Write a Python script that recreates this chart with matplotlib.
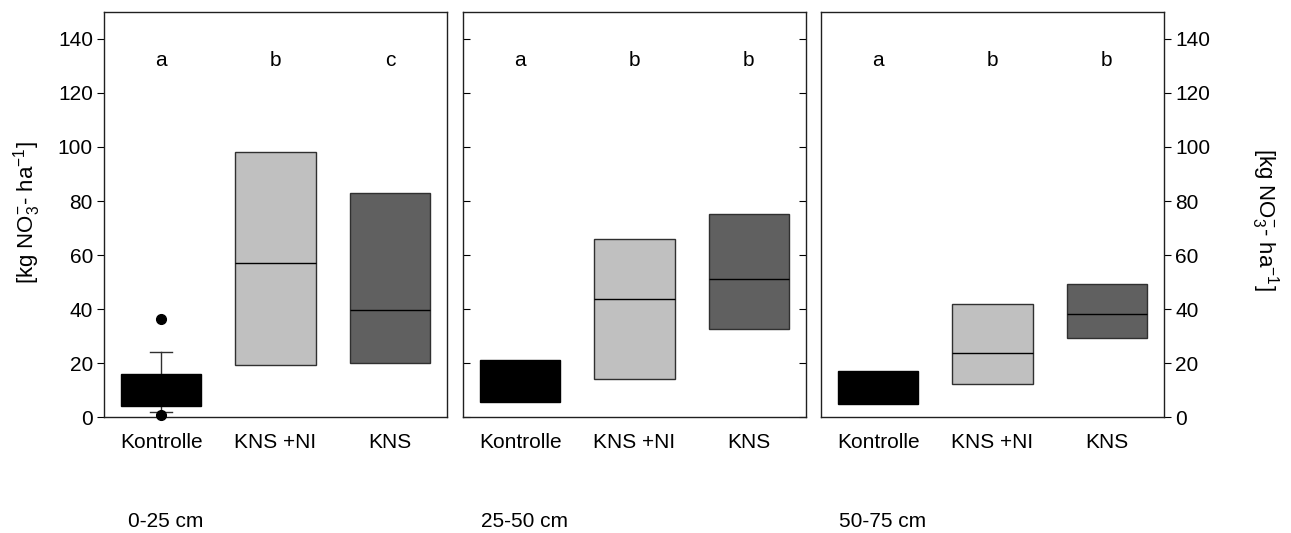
import matplotlib.pyplot as plt

plt.rcParams['font.family'] = ['Liberation Sans', 'DejaVu Sans']
plt.rcParams['mathtext.fontset'] = 'custom'
plt.rcParams['mathtext.rm'] = 'Liberation Sans'
plt.rcParams['mathtext.it'] = 'Liberation Sans'

# data -----------------------------------------------------------
treatments = ["Kontrolle", "KNS +NI", "KNS"]
depths = ["0-25 cm", "25-50 cm", "50-75 cm"]

# per depth: q1, median, q3 for each treatment
q1 = [[4.0, 19.5, 20.0], [5.5, 14.0, 32.5], [5.0, 12.3, 29.2]]
med = [[9.0, 57.2, 39.8], [12.0, 43.6, 51.3], [10.0, 23.7, 38.2]]
q3 = [[16.0, 98.0, 83.0], [21.2, 66.0, 75.3], [17.3, 42.0, 49.3]]
# whiskers (only the control at 0-25 cm has them)
whis_lo = [[1.9, None, None], [None, None, None], [None, None, None]]
whis_hi = [[24.3, None, None], [None, None, None], [None, None, None]]
outliers = [[[36.3, 0.8], [], []], [[], [], []], [[], [], []]]

letters = [["a", "b", "c"], ["a", "b", "b"], ["a", "b", "b"]]

COLORS = ["#000000", "#c0c0c0", "#606060"]
EDGE = "#303030"
ylabel = r"[kg NO$_3^{-}$- ha$^{-1}$]"
FS = 15

fig = plt.figure(figsize=(12.91, 5.33), dpi=100)
lefts = [104, 463, 821]
W, H = 1291, 533
positions = [1, 2, 3]

for k in range(3):
    ax = fig.add_axes([lefts[k] / W, 1 - 417.3 / H, 343 / W, 405.5 / H])
    stats = []
    for i in range(3):
        lo = whis_lo[k][i] if whis_lo[k][i] is not None else q1[k][i]
        hi = whis_hi[k][i] if whis_hi[k][i] is not None else q3[k][i]
        stats.append(dict(q1=q1[k][i], med=med[k][i], q3=q3[k][i],
                          whislo=lo, whishi=hi, fliers=outliers[k][i]))
    caps = [0.19 if whis_lo[k][i] is not None else 0.0 for i in range(3)]
    bp = ax.bxp(stats, positions=positions, widths=0.7, patch_artist=True,
                capwidths=caps,
                boxprops=dict(edgecolor=EDGE, linewidth=1),
                medianprops=dict(color="black", linewidth=1),
                whiskerprops=dict(color=EDGE, linewidth=1),
                capprops=dict(color=EDGE, linewidth=1),
                flierprops=dict(marker="o", markerfacecolor="black",
                                markeredgecolor="black", markersize=7))
    for patch, c in zip(bp["boxes"], COLORS):
        patch.set_facecolor(c)
        if c == "#000000":
            patch.set_edgecolor("black")
    # whiskers behind the box
    for w in bp["whiskers"]:
        w.set_zorder(1)
    for f in bp["fliers"]:
        f.set_clip_on(False)
        f.set_zorder(4)

    for i, lt in enumerate(letters[k]):
        ax.text(positions[i], 132, lt, ha="center", va="center", fontsize=FS)

    ax.set_xlim(0.5, 3.5)
    ax.set_ylim(0, 150)
    ax.set_yticks(range(0, 141, 20))
    ax.set_xticks(positions)
    ax.set_xticklabels(treatments, fontsize=FS)
    ax.tick_params(axis="x", length=0, pad=11)
    for s in ax.spines.values():
        s.set_color("#202020")
        s.set_linewidth(1)

    if k == 0:
        ax.tick_params(axis="y", left=True, right=False, direction="out",
                       length=5, labelsize=FS, pad=3)
    elif k == 1:
        ax.tick_params(axis="y", left=True, right=True, direction="in",
                       length=5, labelleft=False)
    else:
        ax.tick_params(axis="y", left=False, right=True, labelleft=False,
                       labelright=True, direction="out", length=5,
                       labelsize=FS, pad=3)

    ax.text(0.18, -0.258, depths[k], transform=ax.transAxes,
            ha="center", va="center", fontsize=FS)

fig.text(27 / W, 1 - 213 / H, ylabel, rotation=90, ha="center", va="center",
         fontsize=16)
fig.text(1265 / W, 1 - 219 / H, ylabel, rotation=270, ha="center",
         va="center", fontsize=16)

fig.savefig("out.png", dpi=100)
